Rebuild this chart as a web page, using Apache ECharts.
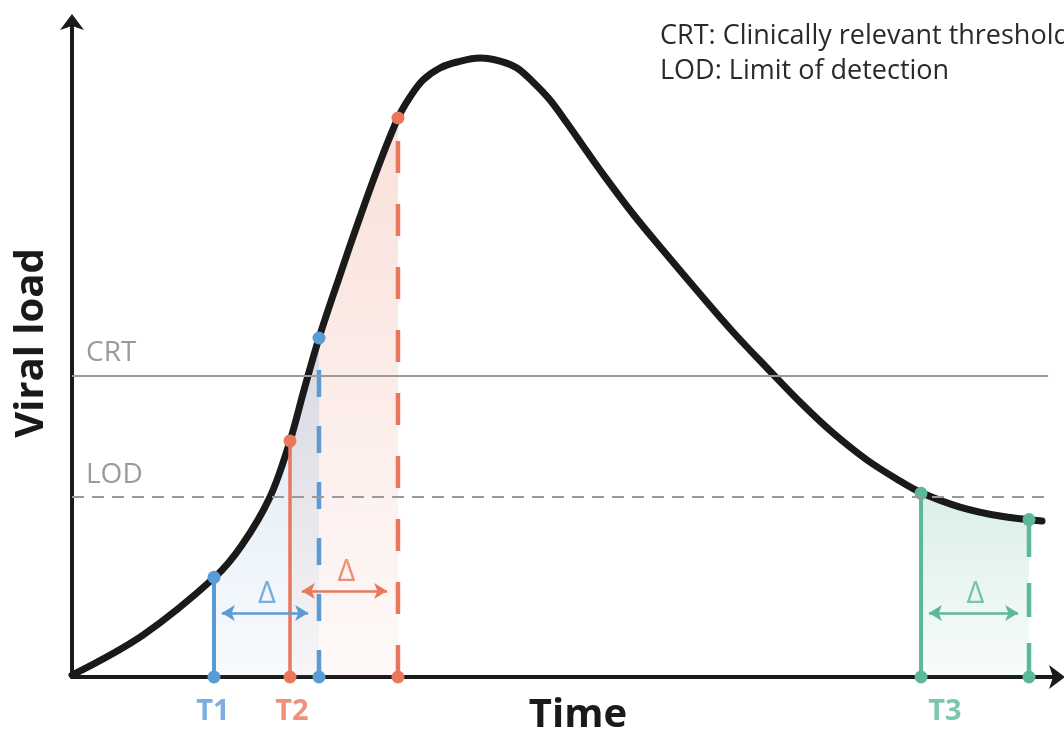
<!DOCTYPE html>
<html><head><meta charset="utf-8">
<script src="https://cdn.jsdelivr.net/npm/echarts@6/dist/echarts.min.js"></script>
<style>html,body{margin:0;padding:0;background:#fff}#c{width:1064px;height:734px}</style>
</head><body><div id="c"></div>
<script>
// viral-load curve (time units 0-100, load units 0-100)
const curveX = [0, 7.20, 14.50, 17.24, 20.08, 22.11, 23.53, 25.05, 27.18, 29.21, 31.24, 33.06, 34.28, 35.60, 37.32, 39.05, 41.38, 43.41, 45.13, 46.75, 48.48, 50.20, 51.83, 53.55, 56.90, 60.34, 63.69, 67.04, 70.49, 73.83, 77.18, 80.63, 83.98, 86.21, 90.06, 94.12, 98.38];
const curveY = [0.30, 6.40, 15.24, 20.12, 27.44, 35.98, 43.75, 51.68, 61.28, 70.12, 78.51, 85.21, 88.41, 91.01, 92.84, 93.75, 94.36, 93.90, 92.84, 90.70, 87.96, 84.45, 80.95, 77.29, 70.58, 64.33, 58.38, 52.59, 47.10, 41.92, 37.20, 33.08, 29.88, 28.05, 25.91, 24.54, 23.78];
// test time points and their delayed (T + delta) counterparts
const timepointLabels = ['T1', 'T2', 'T3'];
const timepointX = [14.4, 22.11, 86.11];
const timepointY = [15.2, 35.98, 28.0];
const delayedX = [25.05, 33.06, 97.06];
const delayedY = [51.68, 85.21, 24.0];
const tickLabelX = [14.3, 22.31, 88.54];
const deltaArrowY = [9.76, 13.11, 9.76];
const deltaLabel = 'Δ';
// thresholds
const crtLevel = 45.96;
const lodLevel = 27.5;
const thresholdLabels = ['CRT', 'LOD'];
const legendLines = ['CRT: Clinically relevant threshold', 'LOD: Limit of detection'];
const axisNames = ['Time', 'Viral load'];

const colors = ['#5b9bd5', '#e8775b', '#5cb895'];
const rgb = ['91,155,213', '232,119,91', '92,184,149'];
const dashes = [[27, 29], [32, 31], [34, 26]];
const FONT = '"Open Sans", "Noto Sans", sans-serif';
const SMOOTH = 0.35;

const chart = echarts.init(document.getElementById('c'), null, {renderer: 'canvas'});
const curveData = curveX.map((x, i) => [x, curveY[i]]);

const series = [];
// shaded regions
[1, 0, 2].forEach(i => {
  const pts = [[timepointX[i], timepointY[i]]];
  curveData.forEach(p => { if (p[0] > timepointX[i] + 0.3 && p[0] < delayedX[i] - 0.3) pts.push(p); });
  pts.push([delayedX[i], delayedY[i]]);
  series.push({
    type: 'line', data: pts, smooth: SMOOTH, symbol: 'none', silent: true,
    lineStyle: {width: 0},
    areaStyle: {
      color: {type: 'linear', x: 0, y: 0, x2: 0, y2: 1, colorStops: [
        {offset: 0, color: 'rgba(' + rgb[i] + ',0.32)'},
        {offset: 1, color: 'rgba(' + rgb[i] + ',0.06)'}
      ]}
    }, z: 1
  });
});
// threshold lines
series.push({
  type: 'line', data: [], silent: true, z: 2,
  markLine: {
    silent: true, symbol: ['none', 'none'],
    data: [
      [{coord: [0, crtLevel], lineStyle: {color: '#9a9a9a', width: 2, type: 'solid'},
        label: {show: true, formatter: thresholdLabels[0], position: 'insideStartTop'}},
       {coord: [99.0, crtLevel]}],
      [{coord: [0, lodLevel], lineStyle: {color: '#9a9a9a', width: 2, type: [12, 8]},
        label: {show: true, formatter: thresholdLabels[1], position: 'insideStartTop'}},
       {coord: [99.0, lodLevel]}]
    ],
    label: {color: '#9a9a9a', fontSize: 28, fontFamily: FONT, distance: [14, 8]}
  }
});
// main curve
series.push({
  type: 'line', data: curveData, smooth: SMOOTH, symbol: 'none', silent: true, z: 3,
  lineStyle: {color: '#1a1a1a', width: 7, cap: 'round', join: 'round'}
});
// vertical markers
for (let i = 0; i < 3; i++) {
  series.push({
    type: 'line', data: [[timepointX[i], 0], [timepointX[i], timepointY[i]]], z: 4, silent: true,
    symbol: 'circle', symbolSize: 13, showSymbol: true,
    itemStyle: {color: colors[i]}, lineStyle: {color: colors[i], width: i === 1 ? 3.5 : 4}
  });
  series.push({
    type: 'line', data: [[delayedX[i], 0], [delayedX[i], delayedY[i]]], z: 4, silent: true,
    symbol: 'circle', symbolSize: 13, showSymbol: true,
    itemStyle: {color: colors[i]}, lineStyle: {color: colors[i], width: 4.5, type: dashes[i]}
  });
  // delta arrows
  const x1 = timepointX[i] + (i === 1 ? 1.2 : 0.8);
  const x2 = delayedX[i] - 1.1;
  series.push({
    type: 'line', data: [], silent: true, z: 5,
    markLine: {
      silent: true, symbol: ['arrow', 'arrow'], symbolSize: [12, 13],
      label: {show: false},
      lineStyle: {color: colors[i], width: 2.5, type: 'solid'},
      data: [[{coord: [x1, deltaArrowY[i]]}, {coord: [x2, deltaArrowY[i]]}]]
    }
  });
  series.push({
    type: 'scatter', data: [[(x1 + x2) / 2 + 0.2, deltaArrowY[i]]], symbolSize: 1, silent: true, z: 5,
    itemStyle: {color: 'rgba(0,0,0,0)'},
    label: {show: true, position: 'top', distance: 1, formatter: deltaLabel,
      color: colors[i], fontSize: 31, fontFamily: FONT, lineHeight: 34}
  });
  // tick labels
  series.push({
    type: 'scatter', data: [[tickLabelX[i], -5.3]], symbolSize: 1, silent: true, clip: false, z: 5,
    itemStyle: {color: 'rgba(0,0,0,0)'},
    label: {show: true, position: 'inside', formatter: timepointLabels[i],
      color: colors[i], fontSize: 29, fontWeight: 'bold', fontFamily: FONT}
  });
}

const axisCommon = {
  type: 'value', min: 0, max: 100,
  axisLine: {show: true, symbol: ['none', 'arrow'], symbolSize: [18, 16], symbolOffset: [0, 7],
    lineStyle: {color: '#1a1a1a', width: 4}},
  axisTick: {show: false}, axisLabel: {show: false}, splitLine: {show: false}
};

chart.setOption({
  animation: false,
  backgroundColor: '#ffffff',
  grid: {left: 72, right: 6, top: 21, bottom: 57, containLabel: false},
  xAxis: Object.assign({}, axisCommon),
  yAxis: Object.assign({}, axisCommon),
  series: series,
  graphic: [
    {type: 'text', x: 32, y: 343, rotation: Math.PI / 2,
      style: {text: axisNames[1], fontSize: 40, fontWeight: 'bold', fontFamily: FONT, fill: '#1a1a1a',
        align: 'center', verticalAlign: 'middle'}},
    {type: 'text', x: 578, y: 716,
      style: {text: axisNames[0], fontSize: 40, fontWeight: 'bold', fontFamily: FONT, fill: '#1a1a1a',
        align: 'center', verticalAlign: 'middle'}},
    {type: 'text', x: 660, y: 36,
      style: {text: legendLines[0], fontSize: 27, fontFamily: FONT, fill: '#2a2a2a',
        align: 'left', verticalAlign: 'middle'}},
    {type: 'text', x: 660, y: 71,
      style: {text: legendLines[1], fontSize: 27, fontFamily: FONT, fill: '#2a2a2a',
        align: 'left', verticalAlign: 'middle'}}
  ]
});
</script></body></html>
